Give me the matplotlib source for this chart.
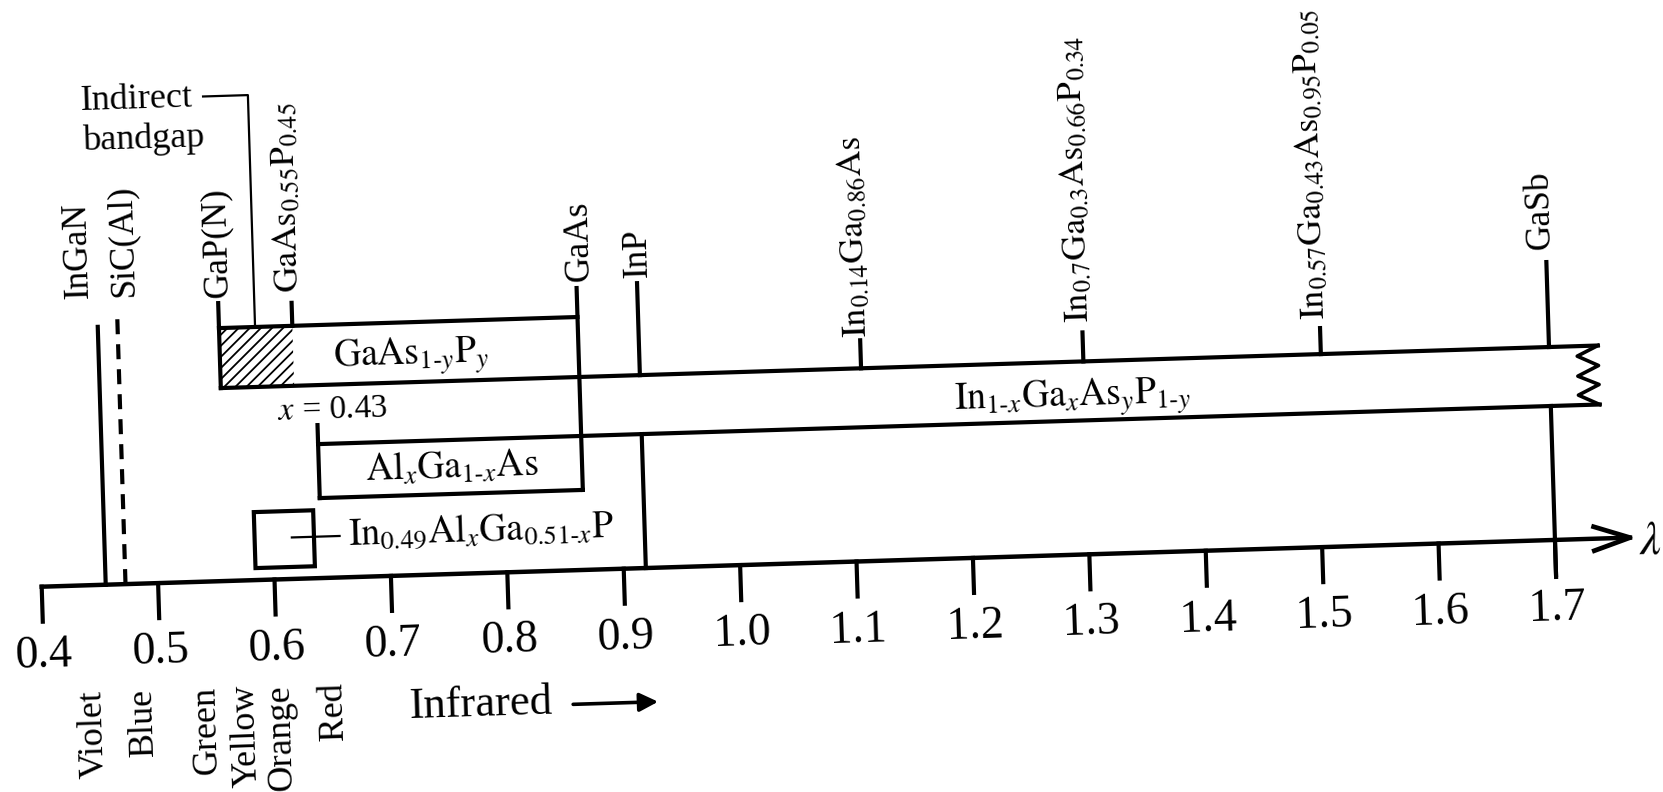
import matplotlib.pyplot as plt
from matplotlib.patches import Rectangle
from matplotlib.transforms import Affine2D

plt.rcParams['font.family'] = ['Liberation Serif', 'DejaVu Serif']
plt.rcParams['mathtext.fontset'] = 'stix'
plt.rcParams['hatch.linewidth'] = 1.3

# ***********
#  DATA
# ***********

# Wavelength axis (micrometres)
tick_values = [0.4, 0.5, 0.6, 0.7, 0.8, 0.9, 1.0, 1.1, 1.2, 1.3, 1.4, 1.5, 1.6, 1.7]
tick_labels = ["0.4", "0.5", "0.6", "0.7", "0.8", "0.9", "1.0",
               "1.1", "1.2", "1.3", "1.4", "1.5", "1.6", "1.7"]

# Colour names written under the axis
color_names = ["Violet", "Blue", "Green", "Yellow", "Orange", "Red"]
color_wl = [0.442, 0.485, 0.539, 0.573, 0.603, 0.648]

# Emission wavelength of each material marker
marker_labels = [r"InGaN", r"SiC(Al)", r"GaP(N)",
                 r"$\mathrm{GaAs}_{0.55}\mathrm{P}_{0.45}$", r"GaAs", r"InP",
                 r"$\mathrm{In}_{0.14}\mathrm{Ga}_{0.86}\mathrm{As}$",
                 r"$\mathrm{In}_{0.7}\mathrm{Ga}_{0.3}\mathrm{As}_{0.66}\mathrm{P}_{0.34}$",
                 r"$\mathrm{In}_{0.57}\mathrm{Ga}_{0.43}\mathrm{As}_{0.95}\mathrm{P}_{0.05}$",
                 r"GaSb"]
marker_wl = [0.455, 0.472, 0.559, 0.622, 0.867, 0.919, 1.109, 1.300, 1.504, 1.700]
label_wl = [0.439, 0.477, 0.558, 0.618, 0.869, 0.9195, 1.104, 1.294, 1.496, 1.695]

# Material ranges (micrometres)
gaasp_range = [0.559, 0.867]        # GaAs(1-y)P(y)
indirect_range = [0.559, 0.622]     # hatched indirect-bandgap part
ingaasp_range = [0.559, 1.742]      # In(1-x)Ga(x)As(y)P(1-y)
algaas_range = [0.641, 0.867]       # Al(x)Ga(1-x)As
inalgap_range = [0.584, 0.635]      # In0.49Al(x)Ga(0.51-x)P
indirect_mark = 0.59
axis_end = 1.7645
infrared_arrow = [0.853, 0.926]

# ***********
#  LAYOUT (heights in pixels above the axis line)
# ***********
marker_base = [0, 0, 193, 253, 80, 193, 193, 193, 193, 193]
marker_top = [258, 266, 278, 276, 282, 285, 221, 222, 219, 278]
label_h = [287, 287, 283, 286, 288, 290, 224, 232, 227, 290]

LW = 3.0
FS = 25.5
TILT = 1.77
PX_PER_UM = 1164.6

# ******
#  MAIN
# ******
fig = plt.figure(figsize=(16.63, 7.92), dpi=100)
ax = fig.add_axes([0, 0, 1, 1])
ax.set_xlim(0.4 - 41.7 / PX_PER_UM, 0.4 + (1663 - 41.7) / PX_PER_UM)
ax.set_ylim(-205.3, 586.7)
ax.axis('off')

# The scanned drawing is slightly tilted: rotate everything about the 0.4 tick
px, py = ax.transData.transform((0.4, 0.0))
tr = ax.transData + Affine2D().rotate_deg_around(px, py, TILT)


def seg(x, y, lw=LW, **kw):
    ax.plot(x, y, color="black", lw=lw, transform=tr,
            solid_capstyle="projecting", **kw)


def txt(x, y, s, **kw):
    kw.setdefault("fontsize", FS)
    kw.setdefault("rotation", TILT)
    ax.text(x, y, s, transform=tr, color="black", **kw)


# Axis line, ticks and arrow
seg([0.4, axis_end], [0, 0], lw=3.2)
for t, lab in zip(tick_values, tick_labels):
    seg([t, t], [0, -35])
    txt(t, -69, lab, fontsize=33, ha="center", va="center")
seg([axis_end - 0.031, axis_end, axis_end - 0.031], [12, 0, -12], lw=3.4)
txt(1.7815, -5, r"$\lambda$", fontsize=34, ha="center", va="center")

# Colour regions
for name, wl in zip(color_names, color_wl):
    txt(wl, -104, name, fontsize=26, rotation=90 + TILT, ha="center", va="top")
txt(0.7113, -129.5, "Infrared", fontsize=32, ha="left", va="center")
ax.annotate("", xy=(infrared_arrow[1], -134), xytext=(infrared_arrow[0], -134),
            xycoords=tr, textcoords=tr,
            arrowprops=dict(arrowstyle="-|>", color="black", lw=2.6,
                            mutation_scale=28, shrinkA=0, shrinkB=0))

# Material markers
for i in range(len(marker_wl)):
    wl = marker_wl[i]
    if marker_labels[i] == "SiC(Al)":
        ax.plot([wl, wl], [marker_base[i], marker_top[i]], color="black", lw=LW,
                dashes=(3.6, 2.4), transform=tr)
    else:
        seg([wl, wl], [marker_base[i], marker_top[i]])
    txt(label_wl[i], label_h[i], marker_labels[i], rotation=90 + TILT,
        ha="center", va="bottom")

# InP and GaSb continue below the InGaAsP band
seg([marker_wl[5], marker_wl[5]], [0, 134])
seg([marker_wl[9], marker_wl[9]], [-37, 134])

# GaAsP box with its hatched indirect part
seg(gaasp_range, [253, 253])
ax.add_patch(Rectangle((indirect_range[0], 193), indirect_range[1] - indirect_range[0], 60,
                       fill=False, hatch="///", lw=0, transform=tr))
txt(0.7235, 219, r"$\mathrm{GaAs}_{1\text{-}y}\mathrm{P}_{y}$", fontsize=27,
    ha="center", va="center")

# Indirect bandgap leader
seg([0.5515, indirect_mark, indirect_mark], [485, 485, 253], lw=1.6)
txt(0.4455, 475, "Indirect", fontsize=26, ha="left", va="baseline")
txt(0.4462, 435, "bandgap", fontsize=26, ha="left", va="baseline")

# InGaAsP band with broken right end
seg(ingaasp_range, [193, 193])
seg([algaas_range[0], ingaasp_range[1]], [134, 134])
zig_wl = [1.742, 1.724, 1.742, 1.724, 1.742, 1.724, 1.742]
zig_h = [193, 183, 173, 163, 154, 144, 134]
seg(zig_wl, zig_h, lw=2.6)
txt(1.29, 157, r"$\mathrm{In}_{1\text{-}x}\mathrm{Ga}_{x}\mathrm{As}_{y}\mathrm{P}_{1\text{-}y}$",
    fontsize=27, ha="center", va="center")

# AlGaAs box
seg(algaas_range, [80, 80])
seg([algaas_range[0], algaas_range[0]], [80, 153])
txt(0.6542, 157.7, r"$x$ = 0.43", fontsize=24, ha="center", va="baseline")
txt(0.7549, 106, r"$\mathrm{Al}_{x}\mathrm{Ga}_{1\text{-}x}\mathrm{As}$", fontsize=27,
    ha="center", va="center")

# InAlGaP box
ax.add_patch(Rectangle((inalgap_range[0], 12), inalgap_range[1] - inalgap_range[0], 56,
                       fill=False, lw=LW, edgecolor="black", transform=tr))
seg([0.616, 0.657], [41.5, 41.5], lw=1.6)
txt(0.6644, 45.7, r"$\mathrm{In}_{0.49}\mathrm{Al}_{x}\mathrm{Ga}_{0.51\text{-}x}\mathrm{P}$",
    fontsize=27, ha="left", va="center")

plt.savefig("out.png", dpi=100, facecolor="white")
plt.close(fig)
